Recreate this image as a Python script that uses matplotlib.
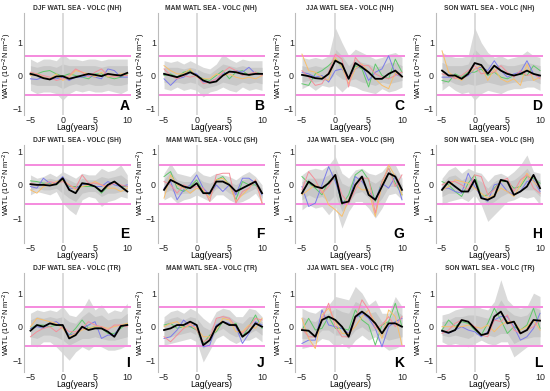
import matplotlib
matplotlib.use("Agg")
import matplotlib.pyplot as plt

lags = list(range(-5, 11))

titles = ["DJF WATL SEA - VOLC (NH)", "MAM WATL SEA - VOLC (NH)", "JJA WATL SEA - VOLC (NH)", "SON WATL SEA - VOLC (NH)",
          "DJF WATL SEA - VOLC (SH)", "MAM WATL SEA - VOLC (SH)", "JJA WATL SEA - VOLC (SH)", "SON WATL SEA - VOLC (SH)",
          "DJF WATL SEA - VOLC (TR)", "MAM WATL SEA - VOLC (TR)", "JJA WATL SEA - VOLC (TR)", "SON WATL SEA - VOLC (TR)"]
letters = ["A", "B", "C", "D", "E", "F", "G", "H", "I", "J", "K", "L"]

# composite mean (black)
black = [
    [0.05, 0.0, -0.08, -0.12, -0.03, -0.02, -0.1, -0.05, 0.0, 0.05, 0.02, -0.02, 0.05, 0.02, 0.0, 0.08],
    [0.05, 0.0, -0.05, 0.02, 0.1, 0.0, -0.15, -0.22, -0.18, 0.0, 0.12, 0.1, 0.05, 0.02, 0.05, 0.05],
    [0.02, -0.02, -0.08, -0.1, 0.05, 0.45, 0.35, -0.1, 0.38, 0.25, 0.1, -0.1, -0.1, 0.05, 0.15, -0.03],
    [0.15, 0.0, 0.0, -0.1, 0.05, 0.38, 0.32, 0.05, 0.3, 0.15, 0.05, 0.0, 0.05, 0.15, 0.05, 0.0],
    [0.02, 0.0, 0.0, -0.02, 0.02, 0.2, -0.15, -0.25, 0.05, 0.02, -0.05, -0.2, 0.0, 0.1, -0.05, -0.2],
    [-0.15, 0.15, 0.05, -0.05, -0.1, 0.05, -0.25, -0.25, 0.1, 0.1, 0.0, -0.2, -0.1, 0.0, 0.1, -0.25],
    [-0.25, 0.1, -0.05, -0.1, 0.05, 0.3, -0.55, -0.5, 0.0, 0.25, -0.3, -0.45, -0.05, 0.35, 0.25, -0.15],
    [-0.15, 0.1, -0.05, -0.2, -0.2, 0.15, -0.4, -0.45, -0.35, 0.15, 0.1, -0.3, -0.2, -0.05, 0.3, -0.1],
    [-0.12, 0.05, 0.0, 0.1, 0.05, 0.05, -0.35, -0.25, 0.0, -0.1, -0.05, -0.05, -0.15, -0.3, 0.02, 0.05],
    [-0.1, -0.05, 0.05, 0.05, 0.15, 0.05, -0.55, -0.4, 0.0, 0.15, 0.05, 0.05, -0.3, -0.15, 0.1, 0.0],
    [-0.1, -0.12, -0.3, 0.2, 0.3, 0.2, 0.0, -0.3, 0.3, 0.45, 0.3, 0.1, -0.2, 0.1, 0.1, 0.0],
    [-0.12, -0.18, -0.1, 0.2, 0.15, -0.05, -0.25, -0.2, 0.3, 0.45, 0.1, 0.15, -0.2, -0.1, 0.2, 0.18],
]

green = [
    [0.08, 0.05, 0.12, 0.15, 0.05, -0.02, 0.05, 0.0, -0.05, -0.1, 0.05, 0.05, -0.05, -0.1, -0.05, 0.05],
    [0.0, 0.05, -0.05, 0.1, 0.15, 0.0, -0.1, -0.15, 0.0, 0.15, -0.1, 0.1, 0.15, 0.0, 0.1, 0.05],
    [-0.25, -0.3, 0.05, 0.15, 0.3, 0.5, 0.25, -0.1, 0.3, 0.2, -0.35, 0.35, 0.0, -0.1, 0.5, 0.1],
    [-0.15, -0.2, 0.05, -0.05, 0.1, 0.1, 0.2, 0.0, 0.1, -0.05, -0.1, 0.0, 0.05, 0.0, 0.3, 0.15],
    [0.12, 0.1, 0.05, 0.05, 0.0, 0.15, -0.05, -0.05, -0.05, -0.05, -0.05, -0.25, -0.05, 0.1, -0.05, -0.05],
    [0.25, 0.4, -0.1, -0.2, -0.05, 0.15, -0.2, -0.3, 0.15, 0.25, 0.0, -0.45, 0.1, 0.0, 0.0, -0.25],
    [0.25, 0.05, -0.1, -0.3, 0.1, 0.2, -0.6, -0.3, 0.3, 0.45, 0.15, -0.5, 0.1, 0.5, 0.05, -0.3],
    [0.1, 0.0, -0.2, -0.35, 0.05, 0.3, -0.35, -0.3, -0.1, 0.1, 0.1, -0.1, -0.05, 0.25, 0.2, 0.05],
    [-0.05, 0.05, 0.05, 0.0, 0.05, 0.0, -0.25, -0.05, 0.2, -0.05, 0.0, -0.05, -0.2, -0.2, -0.05, 0.1],
    [0.05, 0.1, -0.05, 0.0, 0.0, -0.1, -0.5, -0.25, -0.15, 0.15, 0.05, 0.1, -0.3, 0.0, 0.35, -0.05],
    [-0.1, 0.25, -0.1, -0.05, 0.3, -0.05, -0.05, -0.1, 0.5, 0.2, 0.05, -0.55, 0.05, 0.15, 0.7, 0.0],
    [-0.1, 0.2, 0.0, 0.15, 0.1, -0.1, -0.25, 0.1, 0.55, 0.2, -0.2, 0.0, -0.1, 0.05, 0.55, -0.05],
]

blue = [
    [-0.1, -0.12, -0.05, -0.1, -0.1, -0.05, -0.15, -0.05, -0.05, 0.0, -0.05, -0.1, 0.2, 0.15, -0.05, -0.05],
    [-0.1, -0.3, -0.1, -0.05, 0.1, 0.05, -0.2, -0.2, -0.1, 0.05, 0.1, 0.15, 0.1, 0.25, 0.05, 0.05],
    [0.1, 0.05, -0.05, 0.0, -0.2, 0.15, 0.2, -0.1, 0.2, 0.3, -0.15, 0.1, 0.2, 0.6, 0.05, -0.05],
    [-0.05, -0.05, -0.05, -0.1, 0.0, 0.2, 0.25, 0.15, 0.45, 0.15, -0.05, 0.05, 0.1, 0.45, 0.05, -0.05],
    [-0.05, -0.1, 0.2, 0.05, 0.05, 0.25, -0.1, -0.1, 0.0, 0.05, -0.05, -0.05, 0.1, 0.0, -0.05, 0.0],
    [-0.1, 0.1, -0.45, -0.15, 0.0, 0.3, -0.1, -0.3, 0.0, -0.2, 0.0, -0.3, 0.2, 0.2, 0.05, -0.3],
    [-0.05, -0.65, -0.55, 0.0, 0.55, 0.1, -0.5, -0.55, 0.25, 0.1, -0.2, -0.45, 0.05, -0.1, 0.25, -0.45],
    [-0.1, -0.1, -0.2, -0.25, 0.35, -0.05, -0.35, -0.5, 0.0, 0.05, -0.2, -0.3, -0.2, 0.1, 0.15, -0.2],
    [-0.05, 0.0, -0.05, 0.1, 0.15, 0.0, -0.25, -0.2, -0.05, 0.05, 0.15, -0.35, -0.25, -0.25, 0.05, 0.05],
    [-0.35, -0.3, -0.1, 0.2, 0.0, 0.05, -0.6, -0.55, 0.05, 0.15, 0.1, 0.0, -0.5, -0.2, 0.15, 0.05],
    [-0.5, -0.4, -0.4, 0.5, 0.05, 0.0, -0.05, -0.2, 0.25, 0.4, 0.25, -0.05, -0.6, 0.0, 0.15, 0.25],
    [-0.15, -0.2, -0.1, 0.0, -0.1, -0.15, -0.3, -0.15, 0.2, 0.3, 0.3, 0.0, -0.4, -0.3, -0.05, 0.4],
]

orange = [
    [0.0, 0.05, -0.05, -0.1, 0.05, -0.15, -0.05, 0.15, 0.1, 0.05, -0.05, 0.1, -0.05, 0.0, 0.05, 0.05],
    [0.3, 0.15, 0.05, 0.05, 0.2, -0.05, -0.1, -0.1, 0.05, 0.0, 0.05, -0.05, -0.1, -0.05, -0.1, 0.0],
    [0.65, 0.15, 0.1, -0.05, -0.15, 0.55, 0.25, -0.25, 0.2, 0.35, 0.1, -0.1, -0.3, -0.4, 0.1, -0.05],
    [0.75, 0.1, -0.05, -0.15, 0.05, 0.2, 0.3, -0.15, 0.2, -0.1, -0.2, -0.1, -0.3, 0.35, -0.15, -0.05],
    [-0.15, -0.25, -0.05, 0.0, 0.1, 0.15, 0.0, -0.15, -0.05, 0.0, 0.1, 0.0, -0.1, -0.1, -0.2, -0.1],
    [-0.4, 0.3, 0.0, -0.1, -0.25, -0.1, -0.15, -0.4, 0.15, 0.2, 0.0, -0.5, -0.3, -0.1, 0.15, -0.55],
    [-0.3, -0.15, 0.0, -0.15, -0.6, -0.75, -0.95, -0.45, 0.0, -0.15, -0.15, -0.95, 0.0, 0.6, 0.25, -0.3],
    [-0.15, -0.05, 0.15, 0.1, 0.05, -0.1, -0.25, -0.4, -0.3, -0.1, -0.2, -0.35, 0.0, 0.35, 0.1, -0.1],
    [0.0, 0.25, 0.2, 0.15, 0.1, -0.05, -0.3, -0.2, -0.1, -0.05, 0.0, 0.0, -0.05, 0.0, 0.05, 0.1],
    [0.0, 0.1, 0.15, -0.05, 0.05, -0.05, -0.3, -0.3, -0.1, 0.25, 0.2, -0.15, -0.15, 0.05, -0.05, 0.25],
    [0.25, -0.35, -0.65, 0.35, 0.55, 0.15, -0.2, -0.2, 0.0, 0.3, 0.5, 0.1, -0.35, 0.5, 0.3, -0.55],
    [0.0, 0.0, 0.0, 0.0, 0.05, 0.0, -0.05, 0.05, -0.15, 0.05, 0.15, 0.15, -0.1, 0.0, 0.2, -0.1],
]

pink = [
    [0.1, 0.05, 0.0, -0.05, -0.15, -0.1, 0.0, 0.2, 0.1, -0.05, 0.1, 0.2, 0.0, -0.05, 0.0, 0.0],
    [0.2, 0.0, -0.1, 0.0, -0.05, 0.0, -0.25, -0.2, -0.1, 0.1, 0.25, 0.15, 0.0, 0.05, 0.1, 0.0],
    [0.15, -0.05, -0.3, -0.25, 0.1, 0.65, 0.5, -0.35, 0.55, 0.3, 0.3, 0.05, -0.05, -0.1, 0.0, 0.1],
    [0.05, 0.0, -0.1, 0.0, 0.15, 0.3, 0.05, 0.1, 0.1, 0.3, 0.1, -0.05, 0.15, 0.0, 0.05, -0.1],
    [0.05, 0.0, 0.0, 0.1, 0.05, 0.1, 0.0, -0.1, 0.3, 0.05, 0.05, 0.0, -0.05, 0.05, 0.0, -0.05],
    [0.1, 0.0, -0.25, 0.0, -0.1, -0.05, -0.1, -0.5, 0.3, 0.35, 0.35, -0.55, -0.2, -0.1, 0.15, -0.55],
    [-0.15, 0.4, 0.15, -0.25, -0.05, 0.3, -0.3, -0.55, -0.15, 0.2, 0.2, -0.85, 0.1, 0.5, -0.05, 0.3],
    [0.0, 0.1, 0.1, 0.0, -0.15, 0.3, 0.25, -0.3, -0.15, 0.1, 0.2, -0.2, 0.15, 0.3, -0.1, -0.25],
    [-0.3, -0.15, -0.05, 0.0, -0.15, 0.0, -0.15, -0.15, -0.05, 0.15, 0.05, 0.0, -0.1, 0.05, 0.05, 0.0],
    [-0.3, -0.45, -0.25, -0.05, 0.1, -0.1, -0.45, -0.35, 0.25, 0.3, 0.25, 0.0, -0.2, 0.0, 0.25, 0.2],
    [-0.05, -0.3, -0.3, 0.2, 0.7, 0.0, -0.3, -0.3, 0.2, 0.8, 0.5, -0.05, 0.05, 0.3, 0.0, 0.3],
    [-0.2, -0.1, 0.1, 0.2, 0.15, 0.0, -0.25, -0.3, 0.2, 0.15, 0.35, -0.1, -0.2, -0.1, 0.0, 0.2],
]

# confidence bands (outer and inner)
outer_hi = [
    [0.5, 0.4, 0.5, 0.5, 0.45, 0.65, 0.5, 0.5, 0.45, 0.5, 0.5, 0.45, 0.5, 0.5, 0.5, 0.5],
    [0.45, 0.4, 0.45, 0.35, 0.45, 0.35, 0.25, 0.2, 0.35, 0.65, 0.5, 0.4, 0.5, 0.45, 0.45, 0.45],
    [0.55, 0.5, 0.55, 0.5, 0.6, 1.45, 1.0, 0.6, 0.8, 0.7, 0.6, 0.5, 0.55, 0.65, 0.7, 0.55],
    [0.7, 0.6, 0.55, 0.55, 0.6, 1.45, 1.0, 0.7, 0.55, 0.6, 0.5, 0.55, 0.6, 0.75, 0.6, 0.55],
    [0.3, 0.2, 0.25, 0.35, 0.25, 0.4, 0.3, 0.2, 0.35, 0.3, 0.3, 0.5, 0.4, 0.45, 0.6, 0.3],
    [0.35, 0.65, 0.35, 0.3, 0.25, 0.45, 0.3, 0.25, 0.35, 0.3, 0.25, 0.15, 0.3, 0.4, 0.25, 0.0],
    [0.3, 0.45, 0.5, 0.45, 0.6, 0.85, 0.35, 0.2, 0.45, 0.5, 0.35, 0.3, 0.4, 0.65, 0.6, 0.2],
    [0.2, 0.45, 0.55, 0.35, 0.5, 0.4, 0.35, 0.1, 0.3, 0.35, 0.25, 0.4, 0.6, 0.9, 0.4, 0.35],
    [0.4, 0.5, 0.45, 0.5, 0.45, 0.6, 0.35, 0.3, 0.5, 0.85, 0.5, 0.65, 0.4, 0.5, 0.45, 0.7],
    [0.3, 0.45, 0.5, 0.4, 0.55, 0.45, 0.25, 0.1, 0.45, 0.55, 0.5, 0.3, 0.3, 0.55, 0.5, 0.3],
    [0.55, 0.45, 0.4, 0.55, 0.65, 0.9, 0.85, 0.8, 1.2, 1.0, 0.65, 0.8, 0.4, 0.4, 0.9, 0.6],
    [0.35, 0.4, 0.5, 0.55, 0.6, 0.65, 0.55, 0.5, 0.75, 1.4, 0.8, 0.6, 0.55, 0.6, 1.0, 0.9],
]
outer_lo = [
    [-0.45, -0.55, -0.5, -0.5, -0.55, -0.75, -0.55, -0.45, -0.5, -0.45, -0.5, -0.5, -0.45, -0.5, -0.55, -0.45],
    [-0.4, -0.45, -0.35, -0.45, -0.4, -0.45, -0.65, -0.5, -0.45, -0.35, -0.45, -0.5, -0.35, -0.45, -0.4, -0.45],
    [-0.4, -0.3, -0.45, -0.3, -0.35, -0.3, -0.5, -0.3, -0.35, -0.45, -0.5, -0.55, -0.4, -0.5, -0.45, -0.35],
    [-0.45, -0.3, -0.45, -0.55, -0.5, -0.75, -0.55, -0.45, -0.5, -0.55, -0.45, -0.4, -0.4, -0.35, -0.35, -0.45],
    [-0.3, -0.2, -0.25, -0.3, -0.2, -0.55, -0.75, -0.9, -0.45, -0.35, -0.4, -0.65, -0.5, -0.45, -0.35, -0.4],
    [-0.45, -0.35, -0.55, -0.45, -0.4, -0.3, -0.4, -0.5, -0.3, -0.3, -0.45, -0.55, -0.5, -0.4, -0.25, -0.55],
    [-0.75, -0.6, -0.7, -0.65, -0.9, -0.65, -1.3, -0.8, -0.5, -0.5, -0.7, -1.0, -0.7, -0.3, -0.25, -0.45],
    [-0.6, -0.5, -0.45, -0.4, -0.5, -0.3, -0.6, -1.1, -0.9, -0.7, -0.5, -0.45, -0.35, -0.4, -0.35, -0.6],
    [-0.55, -0.6, -0.45, -0.45, -0.6, -0.8, -1.0, -0.75, -0.6, -0.7, -0.55, -0.6, -0.7, -0.7, -0.65, -0.55],
    [-0.55, -0.5, -0.45, -0.4, -0.35, -0.45, -1.05, -0.7, -0.35, -0.25, -0.4, -0.5, -0.4, -0.4, -0.3, -0.45],
    [-0.65, -0.6, -0.5, -0.35, -0.4, -0.6, -0.5, -0.65, -0.4, -0.25, -0.4, -0.3, -0.55, -0.7, -0.65, -0.55],
    [-0.45, -0.55, -0.5, -0.55, -0.6, -0.5, -0.4, -0.5, -0.55, -0.45, -0.45, -0.9, -0.75, -0.6, -0.55, -0.55],
]
inner_hi = [
    [0.3, 0.25, 0.3, 0.3, 0.25, 0.35, 0.3, 0.3, 0.3, 0.3, 0.3, 0.25, 0.3, 0.3, 0.3, 0.3],
    [0.25, 0.25, 0.25, 0.2, 0.25, 0.2, 0.1, 0.05, 0.2, 0.35, 0.3, 0.25, 0.3, 0.25, 0.25, 0.25],
    [0.3, 0.25, 0.3, 0.25, 0.3, 0.8, 0.6, 0.3, 0.5, 0.4, 0.35, 0.25, 0.3, 0.4, 0.4, 0.3],
    [0.4, 0.3, 0.3, 0.3, 0.35, 0.8, 0.6, 0.35, 0.3, 0.35, 0.3, 0.3, 0.35, 0.4, 0.35, 0.3],
    [0.15, 0.1, 0.15, 0.2, 0.15, 0.25, 0.15, 0.05, 0.2, 0.15, 0.15, 0.25, 0.2, 0.25, 0.3, 0.15],
    [0.15, 0.4, 0.15, 0.1, 0.1, 0.25, 0.1, 0.05, 0.15, 0.15, 0.1, 0.0, 0.15, 0.2, 0.1, -0.1],
    [0.1, 0.2, 0.2, 0.2, 0.3, 0.5, 0.05, -0.05, 0.2, 0.3, 0.15, 0.05, 0.2, 0.4, 0.35, 0.0],
    [0.05, 0.25, 0.3, 0.15, 0.25, 0.2, 0.1, -0.1, 0.1, 0.2, 0.1, 0.15, 0.3, 0.5, 0.2, 0.15],
    [0.2, 0.3, 0.25, 0.3, 0.25, 0.3, 0.15, 0.1, 0.3, 0.45, 0.3, 0.35, 0.2, 0.25, 0.25, 0.4],
    [0.15, 0.25, 0.3, 0.2, 0.3, 0.25, 0.0, -0.1, 0.25, 0.35, 0.3, 0.15, 0.1, 0.3, 0.3, 0.15],
    [0.3, 0.2, 0.15, 0.35, 0.4, 0.55, 0.45, 0.4, 0.75, 0.65, 0.4, 0.45, 0.15, 0.2, 0.5, 0.35],
    [0.15, 0.2, 0.3, 0.3, 0.35, 0.35, 0.3, 0.25, 0.45, 0.8, 0.5, 0.35, 0.3, 0.35, 0.6, 0.5],
]
inner_lo = [
    [-0.25, -0.3, -0.3, -0.3, -0.3, -0.4, -0.3, -0.25, -0.3, -0.25, -0.3, -0.3, -0.25, -0.3, -0.3, -0.25],
    [-0.2, -0.25, -0.2, -0.25, -0.2, -0.25, -0.4, -0.35, -0.3, -0.2, -0.25, -0.3, -0.2, -0.25, -0.2, -0.25],
    [-0.2, -0.15, -0.2, -0.15, -0.15, 0.05, -0.1, -0.15, -0.1, -0.2, -0.25, -0.3, -0.2, -0.25, -0.2, -0.15],
    [-0.25, -0.15, -0.25, -0.3, -0.25, -0.3, -0.25, -0.2, -0.25, -0.3, -0.25, -0.2, -0.2, -0.15, -0.15, -0.25],
    [-0.15, -0.1, -0.15, -0.15, -0.1, -0.25, -0.4, -0.5, -0.25, -0.2, -0.2, -0.35, -0.25, -0.25, -0.2, -0.2],
    [-0.25, -0.15, -0.3, -0.25, -0.25, -0.1, -0.25, -0.35, -0.1, -0.1, -0.25, -0.35, -0.3, -0.2, -0.1, -0.4],
    [-0.45, -0.3, -0.4, -0.35, -0.5, -0.3, -0.8, -0.55, -0.25, -0.2, -0.4, -0.65, -0.4, -0.05, -0.05, -0.25],
    [-0.35, -0.25, -0.25, -0.2, -0.25, -0.1, -0.35, -0.6, -0.5, -0.35, -0.25, -0.25, -0.15, -0.15, -0.15, -0.35],
    [-0.3, -0.35, -0.25, -0.25, -0.3, -0.4, -0.55, -0.45, -0.35, -0.35, -0.3, -0.35, -0.4, -0.4, -0.35, -0.3],
    [-0.3, -0.3, -0.25, -0.2, -0.15, -0.25, -0.65, -0.45, -0.15, -0.05, -0.2, -0.3, -0.25, -0.2, -0.1, -0.25],
    [-0.35, -0.35, -0.3, -0.1, -0.1, -0.25, -0.25, -0.35, -0.1, 0.0, -0.15, -0.1, -0.3, -0.4, -0.35, -0.3],
    [-0.25, -0.3, -0.25, -0.3, -0.35, -0.25, -0.2, -0.25, -0.3, -0.2, -0.2, -0.5, -0.4, -0.35, -0.3, -0.3],
]

sig_hi = 0.6
sig_lo = -0.58

W, H = 550, 391
fig = plt.figure(figsize=(W / 100, H / 100), dpi=100)
plt.rcParams['font.family'] = ['Liberation Sans', 'DejaVu Sans']

# axes boxes in pixels
col_left = [24.0, 157.5, 295.3, 435.5]
col_width = [106.5, 107.8, 110.0, 107.8]
row_top = [13, 145, 273]
row_bottom = [115, 243, 372]
row_ylim = [(-1.2, 1.9), (-1.75, 1.2), (-1.35, 1.6)]
row_ylabel_y = [0.48, 0.62, 0.5]

for i in range(12):
    r, c = divmod(i, 4)
    ax = fig.add_axes([col_left[c] / W, 1 - row_bottom[r] / H,
                       col_width[c] / W, (row_bottom[r] - row_top[r]) / H])
    ax.fill_between(lags, outer_lo[i], outer_hi[i], color='#dadada', lw=0)
    ax.fill_between(lags, inner_lo[i], inner_hi[i], color='#c8c8c8', lw=0)
    ax.axvline(0, color='#d4d4d4', lw=1.2)
    ax.axhline(sig_hi, color='#f58ade', lw=1.4)
    ax.axhline(sig_lo, color='#f58ade', lw=1.4)
    ax.plot(lags, green[i], color='#5fc86a', lw=0.7)
    ax.plot(lags, blue[i], color='#7b7bea', lw=0.7)
    ax.plot(lags, orange[i], color='#f8be6a', lw=0.7)
    ax.plot(lags, pink[i], color='#f48f9a', lw=0.7)
    ax.plot(lags, black[i], color='black', lw=1.3)
    ax.set_xlim(-6, 10.5)
    ax.set_ylim(*row_ylim[r])
    ax.set_xticks([-5, 0, 5, 10])
    ax.set_yticks([-1, 0, 1])
    ax.tick_params(length=0, labelsize=6.4, pad=0.5, colors='#222222')
    ax.tick_params(axis='y', pad=1.0)
    for s in ['top', 'right', 'bottom']:
        ax.spines[s].set_visible(False)
    ax.spines['left'].set_color('#bbbbbb')
    ax.spines['left'].set_linewidth(0.8)
    ax.set_facecolor('none')
    ax.set_title(titles[i], fontsize=4.8, fontweight='bold', color='#333333', pad=2)
    ax.set_xlabel("Lag(years)", fontsize=6.3, labelpad=-1)
    ax.set_ylabel("WATL (10$^{-2}$N m$^{-2}$)", fontsize=5.3)
    ax.yaxis.set_label_coords(-9.8 / col_width[c], row_ylabel_y[r])
    ax.text(0.99, 0.02, letters[i], transform=ax.transAxes, ha='right', va='bottom',
            fontsize=10, fontweight='bold')

fig.savefig("out.png", dpi=100)
